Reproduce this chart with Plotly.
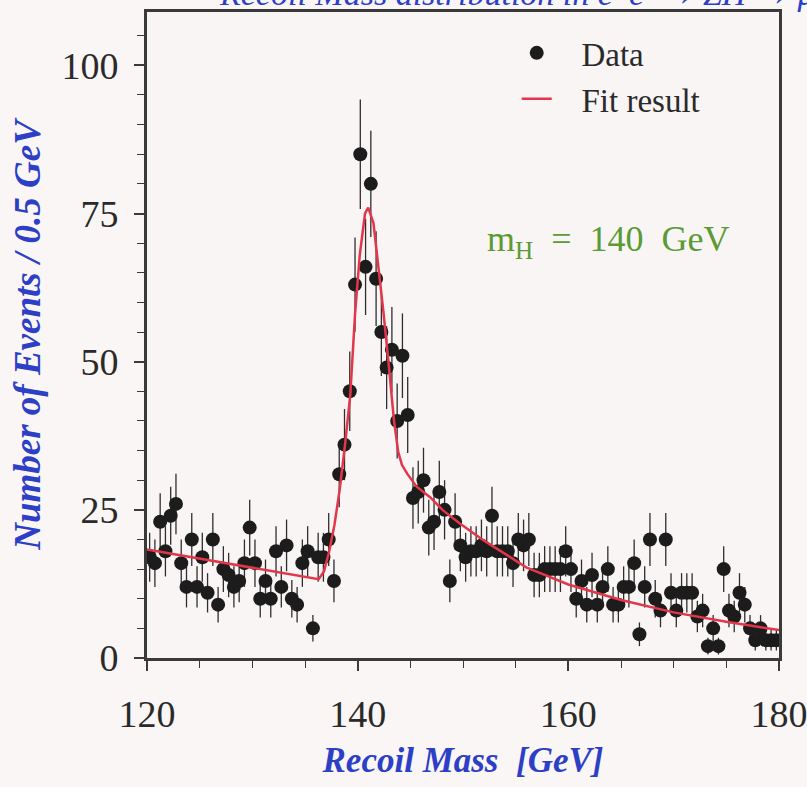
import numpy as np
import plotly.graph_objects as go

# Recoil-mass histogram: 0.5 GeV bins from 120 to 180 GeV
bin_lo, bin_hi, bin_w = 120.0, 180.0, 0.5
mass = np.arange(bin_lo + bin_w / 2, bin_hi, bin_w)

counts = [
    17, 16, 23, 18, 24, 26, 16, 12, 20, 12,
    17, 11, 20, 9, 15, 14, 12, 13, 16, 22,
    16, 10, 13, 10, 18, 12, 19, 10, 9, 16,
    18, 5, 17, 17, 20, 13, 31, 36, 45, 63,
    85, 66, 80, 64, 55, 49, 52, 40, 51, 41,
    27, 28, 30, 22, 23, 28, 25, 13, 23, 19,
    17, 18, 18, 19, 18, 24, 18, 18, 18, 16,
    20, 19, 20, 14, 14, 15, 15, 15, 15, 18,
    15, 10, 13, 9, 14, 9, 12, 15, 9, 9,
    12, 12, 16, 4, 12, 20, 10, 8, 20, 11,
    8, 11, 11, 11, 7, 8, 2, 5, 2, 15,
    8, 7, 11, 9, 5, 3, 5, 3, 3, 3,
]
stat_err = np.sqrt(np.array(counts, dtype=float))

# Fitted signal + background curve
fit_mass = [120.0, 124.0, 128.0, 132.0, 136.3, 136.8, 137.3, 137.8, 138.3, 138.8,
            139.3, 139.75, 140.2, 140.7, 141.0, 141.5, 142.0, 142.45, 142.9, 143.2,
            143.45, 143.85, 144.2, 144.7, 145.6, 146.9, 148.1, 149.7, 152.0, 156.0,
            160.0, 165.0, 170.0, 175.0, 180.0]
fit_value = [18.3, 17.1, 15.9, 14.6, 13.3, 14.6, 18.0, 22.5, 28.5, 36.0,
             44.4, 58.0, 68.0, 75.0, 76.0, 73.4, 66.0, 58.3, 50.4, 45.0,
             40.0, 34.8, 32.6, 31.1, 28.9, 27.1, 24.9, 22.7, 19.8, 15.3,
             12.4, 9.8, 7.7, 6.1, 4.7]

x_ticks = [120, 140, 160, 180]
y_ticks = [0, 25, 50, 75, 100]

serif = "Liberation Serif, Times New Roman, serif"
blue = "#2c3fc6"
green = "#5a9b34"
frame = "#3a3a3a"
nb = "\u00a0"

fig = go.Figure()
fig.add_trace(go.Scatter(
    x=mass, y=counts, mode="markers", name=nb * 3 + "Data",
    marker=dict(size=14, color="#1c1c1c"),
    error_y=dict(type="data", array=stat_err, visible=True,
                 color="#2e2e2e", thickness=1.3, width=0),
))
fig.add_trace(go.Scatter(
    x=fit_mass, y=fit_value, mode="lines", name=nb * 3 + "Fit result",
    line=dict(color="#e3364b", width=2.5),
))

axis_common = dict(
    ticks="outside", ticklen=10, tickwidth=1.5, tickcolor=frame,
    showline=True, linewidth=3, linecolor=frame, mirror=True,
    showgrid=False, zeroline=False, ticklabeloverflow="allow",
    automargin=False,
    tickfont=dict(family=serif, size=38, color="#2a2a2a"),
    minor=dict(dtick=5, ticks="outside", ticklen=7, tickwidth=1.2,
               tickcolor=frame, showgrid=False),
)

fig.update_layout(
    width=807, height=787,
    margin=dict(l=147, r=28, t=12, b=129),
    paper_bgcolor="#faf6f5", plot_bgcolor="#f9f5f4",
    font=dict(family=serif, color="#2a2a2a"),
    showlegend=True,
    legend=dict(x=0.585, y=0.98, xanchor="left", yanchor="top",
                bgcolor="rgba(0,0,0,0)",
                font=dict(family=serif, size=33, color="#2a2a2a")),
    xaxis=dict(range=[120, 180], tickvals=x_ticks, ticklabelstandoff=10,
               title=dict(text="<b><i>Recoil Mass" + nb * 2 + "[GeV]</i></b>",
                          font=dict(family=serif, size=35, color=blue),
                          standoff=14),
               **axis_common),
    yaxis=dict(range=[0, 109], tickvals=y_ticks, ticklabelstandoff=8,
               title=dict(text="<b><i>Number of Events / 0.5 GeV</i></b>",
                          font=dict(family=serif, size=37, color=blue),
                          standoff=10),
               **axis_common),
    annotations=[
        dict(text="m<sub>H</sub>" + nb * 2 + "=" + nb * 2 + "140" + nb * 2 + "GeV",
             xref="paper", yref="paper", x=0.73, y=0.645,
             xanchor="center", yanchor="middle", showarrow=False,
             font=dict(family=serif, size=36, color=green)),
        dict(text="<i>Recoil Mass distribution in e<sup>+</sup>e<sup>-</sup> \u2192 ZH \u2192 \u03bc<sup>+</sup>\u03bc<sup>-</sup> X</i>",
             xref="paper", yref="paper", x=0.11, y=1.032,
             xanchor="left", yanchor="middle", showarrow=False,
             font=dict(family=serif, size=34, color=blue)),
    ],
)

fig.write_html("out.html")
